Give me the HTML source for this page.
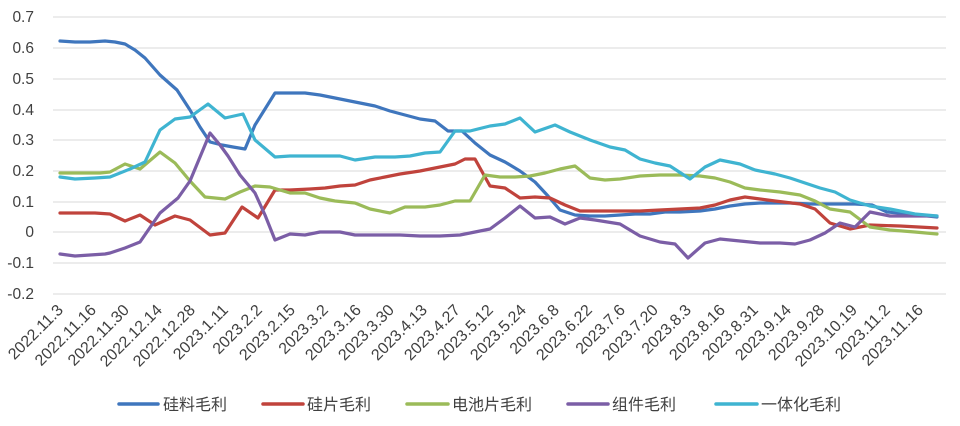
<!DOCTYPE html>
<html><head><meta charset="utf-8"><style>
body{margin:0;background:#fff;}
svg text{font-family:"Liberation Sans","Noto Sans CJK SC",sans-serif;fill:#404040;}
</style></head><body>
<svg width="960" height="421" xmlns="http://www.w3.org/2000/svg">
<rect width="960" height="421" fill="#fff"/>
<g stroke="#d9d9d9" stroke-width="1">
<line x1="53" x2="946" y1="17" y2="17"/><line x1="53" x2="946" y1="48" y2="48"/><line x1="53" x2="946" y1="79" y2="79"/><line x1="53" x2="946" y1="110" y2="110"/><line x1="53" x2="946" y1="140" y2="140"/><line x1="53" x2="946" y1="171" y2="171"/><line x1="53" x2="946" y1="202" y2="202"/><line x1="53" x2="946" y1="232" y2="232"/><line x1="53" x2="946" y1="263" y2="263"/><line x1="53" x2="946" y1="294" y2="294"/>
</g>
<g font-size="15.5" text-anchor="end">
<text x="34" y="22">0.7</text><text x="34" y="53">0.6</text><text x="34" y="84">0.5</text><text x="34" y="115">0.4</text><text x="34" y="145">0.3</text><text x="34" y="176">0.2</text><text x="34" y="207">0.1</text><text x="34" y="237">0</text><text x="34" y="268">-0.1</text><text x="34" y="299">-0.2</text>
</g>
<g fill="none" stroke-width="3.2" stroke-linejoin="round" stroke-linecap="round">
<polyline stroke="#3f76bd" points="60,41 75,42 90,42 105,41 115,42 125,44 135,50 145,58 160,75 177,90 190,110 200,127 210,142 222,145 233,147 245,149 255,125 275,93 290,93 305,93 320,95 335,98 350,101 375,106 390,111 405,115 420,119 435,121 448,131 462,131 475,143 490,155 505,162 520,171 535,182 548,196 560,210 575,215 590,216 605,216 620,215 635,214 650,214 665,212 680,212 700,211 715,209 730,206 745,204 760,203 775,203 790,203 810,204 835,204 855,204 872,205 887,212 910,214 937,217"/>
<polyline stroke="#c0433c" points="60,213 75,213 95,213 110,214 125,221 140,215 155,225 175,216 190,220 210,235 225,233 242,207 258,218 275,190 290,190 310,189 325,188 340,186 355,185 370,180 385,177 400,174 420,171 440,167 455,164 465,159 475,159 490,186 505,188 520,198 535,197 550,198 565,205 580,211 600,211 620,211 640,211 660,210 680,209 700,208 715,205 730,200 745,197 760,199 775,201 800,204 815,209 830,223 850,229 870,225 900,226 937,228"/>
<polyline stroke="#9bbb59" points="60,173 80,173 100,173 110,172 125,164 140,169 160,152 175,163 190,181 205,197 225,199 240,192 255,186 270,187 290,193 305,193 320,198 335,201 355,203 370,209 390,213 405,207 425,207 440,205 455,201 470,201 485,175 500,177 515,177 530,176 545,173 560,169 575,166 590,178 605,180 620,179 640,176 660,175 680,175 700,176 715,178 730,182 745,188 760,190 780,192 800,195 815,201 830,209 850,212 870,227 890,230 915,232 937,234"/>
<polyline stroke="#7b5ea6" points="60,254 75,256 90,255 105,254 110,253 125,248 140,242 160,213 178,198 190,181 210,133 220,145 228,156 240,175 255,193 265,215 275,240 290,234 305,235 320,232 340,232 355,235 375,235 400,235 420,236 440,236 460,235 475,232 490,229 505,218 520,206 535,218 550,217 565,224 580,218 595,220 620,224 640,236 660,242 675,244 688,258 705,243 720,239 740,241 760,243 780,243 795,244 810,240 825,233 840,223 855,227 870,212 890,216 937,216"/>
<polyline stroke="#3fb4d1" points="60,177 75,179 95,178 110,177 130,169 145,162 160,130 175,119 190,117 208,104 225,118 243,114 255,140 275,157 290,156 305,156 325,156 340,156 355,160 375,157 395,157 410,156 425,153 440,152 455,131 470,131 490,126 505,124 520,118 535,132 555,125 570,132 590,140 610,147 625,150 640,159 655,163 670,166 690,179 705,167 720,160 740,164 755,170 775,174 790,178 805,183 820,188 835,192 850,200 870,206 890,209 915,214 937,216"/>
</g>
<g font-size="16" text-anchor="end">
<text transform="translate(64,311) rotate(-45)">2022.11.3</text>
<text transform="translate(97,311) rotate(-45)">2022.11.16</text>
<text transform="translate(130,311) rotate(-45)">2022.11.30</text>
<text transform="translate(163,311) rotate(-45)">2022.12.14</text>
<text transform="translate(196,311) rotate(-45)">2022.12.28</text>
<text transform="translate(229,311) rotate(-45)">2023.1.11</text>
<text transform="translate(263,311) rotate(-45)">2023.2.2</text>
<text transform="translate(296,311) rotate(-45)">2023.2.15</text>
<text transform="translate(329,311) rotate(-45)">2023.3.2</text>
<text transform="translate(362,311) rotate(-45)">2023.3.16</text>
<text transform="translate(395,311) rotate(-45)">2023.3.30</text>
<text transform="translate(428,311) rotate(-45)">2023.4.13</text>
<text transform="translate(461,311) rotate(-45)">2023.4.27</text>
<text transform="translate(494,311) rotate(-45)">2023.5.12</text>
<text transform="translate(527,311) rotate(-45)">2023.5.24</text>
<text transform="translate(560,311) rotate(-45)">2023.6.8</text>
<text transform="translate(593,311) rotate(-45)">2023.6.22</text>
<text transform="translate(626,311) rotate(-45)">2023.7.6</text>
<text transform="translate(659,311) rotate(-45)">2023.7.20</text>
<text transform="translate(692,311) rotate(-45)">2023.8.3</text>
<text transform="translate(726,311) rotate(-45)">2023.8.16</text>
<text transform="translate(759,311) rotate(-45)">2023.8.31</text>
<text transform="translate(792,311) rotate(-45)">2023.9.14</text>
<text transform="translate(825,311) rotate(-45)">2023.9.28</text>
<text transform="translate(858,311) rotate(-45)">2023.10.19</text>
<text transform="translate(891,311) rotate(-45)">2023.11.2</text>
<text transform="translate(924,311) rotate(-45)">2023.11.16</text>
</g>
<g stroke-width="3.5" stroke-linecap="round">
<line x1="119" x2="158" y1="404" y2="404" stroke="#3f76bd"/>
<line x1="263" x2="303" y1="404" y2="404" stroke="#c0433c"/>
<line x1="407" x2="448" y1="404" y2="404" stroke="#9bbb59"/>
<line x1="568" x2="608" y1="404" y2="404" stroke="#7b5ea6"/>
<line x1="716" x2="757" y1="404" y2="404" stroke="#3fb4d1"/>
</g>
<g font-size="16">
<text x="163" y="410">硅料毛利</text>
<text x="307" y="410">硅片毛利</text>
<text x="452" y="410">电池片毛利</text>
<text x="612" y="410">组件毛利</text>
<text x="761" y="410">一体化毛利</text>
</g>
</svg>
</body></html>
